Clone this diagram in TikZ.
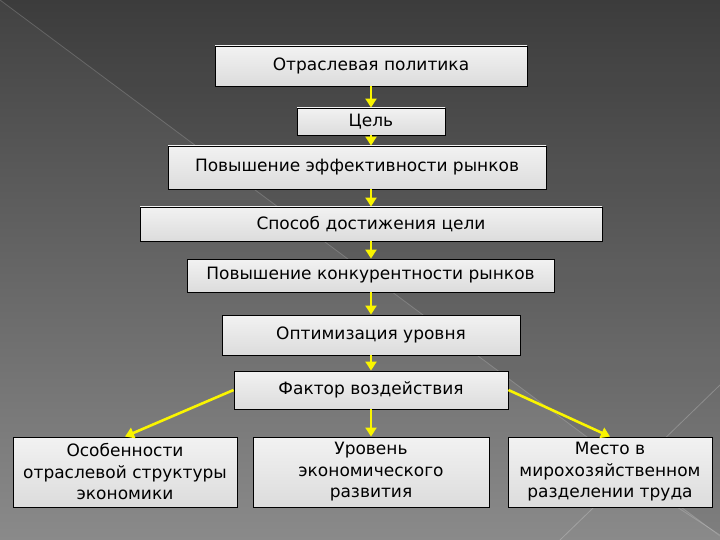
\documentclass[tikz,border=0pt]{standalone}
\usepackage{fontspec}
\setmainfont{DejaVu Sans}
\usetikzlibrary{arrows.meta}
\definecolor{bgtop}{RGB}{66,66,66}
\definecolor{bgbot}{RGB}{138,138,138}
\definecolor{boxtop}{RGB}{242,242,242}
\definecolor{boxbot}{RGB}{220,220,220}
\definecolor{arrowyellow}{RGB}{250,245,0}
\tikzset{
  box/.style={draw=black, line width=0.9pt, top color=boxtop, bottom color=boxbot,
    inner sep=0pt, align=center, font=\fontsize{17}{21.5}\selectfont, text=black},
  link/.style={draw=arrowyellow, line width=2.6pt, -{Triangle[width=11pt,length=9pt]}},
}
\begin{document}
\begin{tikzpicture}[x=1pt,y=-1pt]
\useasboundingbox (0,0) rectangle (720,540);
% background
\shade[top color=bgtop, bottom color=bgbot] (0,0) rectangle (720,540);
\fill[black, opacity=0.08] (0,0) -- (720,0) -- (720,536) -- cycle;
\draw[white, opacity=0.18, line width=0.8pt] (0,0) -- (720,536);
\draw[white, opacity=0.22, line width=0.8pt] (720,385) -- (560,540);
\draw[white, opacity=0.18, line width=0.8pt] (620,470) -- (720,535);
% boxes
\node[box, minimum width=312, minimum height=40] (b1) at (371,66) {Отраслевая политика};
\node[box, minimum width=148, minimum height=27] (b2) at (371,121.5) {Цель};
\node[box, minimum width=378, minimum height=43] (b3) at (357,167.5) {Повышение эффективности рынков};
\node[box, minimum width=462, minimum height=34] (b4) at (371,224) {Способ достижения цели};
\node[box, minimum width=367, minimum height=33] (b5) at (370.5,275.5) {Повышение конкурентности рынков};
\node[box, minimum width=298, minimum height=40] (b6) at (371,335) {Оптимизация уровня};
\node[box, minimum width=274, minimum height=38] (b7) at (371,390) {Фактор воздействия};
\node[box, minimum width=224, minimum height=70] (b8) at (125,472) {Особенности\\отраслевой структуры\\экономики};
\node[box, minimum width=236, minimum height=70] (b9) at (371,472) {Уровень\\экономического\\развития};
\node[box, minimum width=204, minimum height=70] (b10) at (610,472) {Место в\\мирохозяйственном\\разделении труда};
% connectors
\draw[link] (b1.south) -- (b2.north);
\draw[link] (b2.south) -- (b2.south |- b3.north);
\draw[link] (b3.south -| b2.south) -- (b4.north);
\draw[link] (b4.south) -- (b4.south |- b5.north);
\draw[link] (b5.south -| b4.south) -- (b6.north);
\draw[link] (b6.south) -- (b7.north);
\draw[link] (b7.south) -- (b9.north);
\draw[link] (b7.west) -- (b8.north);
\draw[link] (b7.east) -- (b10.north);
\end{tikzpicture}
\end{document}
